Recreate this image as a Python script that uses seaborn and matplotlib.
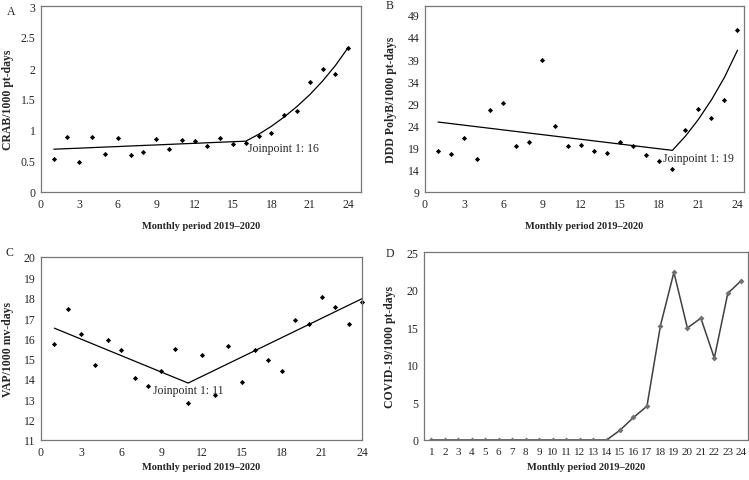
import numpy as np
import pandas as pd
import matplotlib
matplotlib.use("Agg")
import matplotlib.pyplot as plt
import seaborn as sns
from matplotlib.ticker import MultipleLocator, FixedLocator

# === Data ===
months = list(range(1, 25))

crab = [0.53, 0.89, 0.48, 0.88, 0.62, 0.87, 0.60, 0.64, 0.85, 0.70, 0.84, 0.83,
        0.74, 0.87, 0.78, 0.79, 0.91, 0.95, 1.24, 1.31, 1.78, 1.98, 1.90, 2.32]
crab_fit = [0.690, 0.699, 0.707, 0.716, 0.725, 0.733, 0.742, 0.751, 0.759, 0.768,
            0.777, 0.785, 0.794, 0.803, 0.811, 0.820, 0.93, 1.06, 1.21, 1.38,
            1.57, 1.79, 2.04, 2.33]

polyb = [18.3, 17.5, 21.2, 16.5, 27.6, 29.0, 19.3, 20.3, 38.7, 23.9, 19.4, 19.7,
         18.3, 17.8, 20.3, 19.3, 17.3, 16.1, 14.3, 22.9, 27.8, 25.6, 29.7, 45.5]
polyb_fit_x = [1, 19, 20, 21, 22, 23, 24]
polyb_fit = [24.8, 18.4, 21.6, 25.4, 29.8, 34.9, 41.0]

vap = [15.7, 17.45, 16.2, 14.7, 15.9, 15.45, 14.05, 13.65, 14.4, 15.5, 12.8, 15.2,
       13.2, 15.6, 13.85, 15.45, 14.95, 14.4, 16.9, 16.7, 18.05, 17.55, 16.7, 17.8]
vap_fit_x = [1, 11, 24]
vap_fit = [16.5, 13.8, 17.95]

covid = [0, 0, 0, 0, 0, 0, 0, 0, 0, 0, 0, 0, 0, 0, 1.3, 3.0, 4.5, 15.2, 22.3,
         14.9, 16.2, 10.9, 19.5, 21.2]

sns.set_theme(style="white")
plt.rcParams["font.family"] = ["Liberation Serif", "DejaVu Serif"]
plt.rcParams["font.size"] = 8

fig = plt.figure(figsize=(7.49, 4.81), dpi=100)
W, H = 749, 481


def add_ax(l, t, r, b):
    return fig.add_axes([l / W, 1 - b / H, (r - l) / W, (b - t) / H])


axA = add_ax(41, 7, 361, 193)
axB = add_ax(425, 7, 744, 193)
axC = add_ax(41, 258, 362, 441)
axD = add_ax(424, 253, 748, 441)

df = pd.DataFrame({"month": months, "crab": crab, "crab_fit": crab_fit,
                   "polyb": polyb, "vap": vap, "covid": covid})

TICK = 8.5
XLBL = 7.5
YLBL = 8.5

# A
sns.scatterplot(data=df, x="month", y="crab", ax=axA, marker="D", s=7, color="black",
                linewidth=0, clip_on=False)
sns.lineplot(data=df, x="month", y="crab_fit", ax=axA, color="black", linewidth=0.9)
axA.set_xlim(0, 25)
axA.set_ylim(0, 3)
axA.xaxis.set_major_locator(FixedLocator(range(0, 25, 3)))
axA.yaxis.set_major_locator(FixedLocator([0, 0.5, 1, 1.5, 2, 2.5, 3]))
axA.set_yticklabels(["0", "0.5", "1", "1.5", "2", "2.5", "3"])
axA.set_ylabel("CRAB/1000 pt-days", fontweight="bold", fontsize=YLBL)
axA.text(16.2, 0.81, "Joinpoint 1: 16", va="top", ha="left", fontsize=TICK)

# B
sns.scatterplot(data=df, x="month", y="polyb", ax=axB, marker="D", s=7, color="black",
                linewidth=0, clip_on=False)
sns.lineplot(x=polyb_fit_x, y=polyb_fit, ax=axB, color="black", linewidth=0.9)
axB.set_xlim(0, 24.5)
axB.set_ylim(9, 51)
axB.xaxis.set_major_locator(FixedLocator(range(0, 25, 3)))
axB.yaxis.set_major_locator(FixedLocator(range(9, 50, 5)))
axB.set_ylabel("DDD PolyB/1000 pt-days", fontweight="bold", fontsize=YLBL)
axB.text(18.3, 18.0, "Joinpoint 1: 19", va="top", ha="left", fontsize=TICK)

# C
sns.scatterplot(data=df, x="month", y="vap", ax=axC, marker="D", s=7, color="black",
                linewidth=0, clip_on=False)
sns.lineplot(x=vap_fit_x, y=vap_fit, ax=axC, color="black", linewidth=0.9)
axC.set_xlim(0, 24)
axC.set_ylim(11, 20)
axC.xaxis.set_major_locator(FixedLocator(range(0, 25, 3)))
axC.yaxis.set_major_locator(MultipleLocator(1))
axC.set_ylabel("VAP/1000 mv-days", fontweight="bold", fontsize=YLBL)
axC.text(11, 13.75, "Joinpoint 1: 11", va="top", ha="center", fontsize=TICK)

# D
sns.lineplot(data=df, x="month", y="covid", ax=axD, color="#404040", linewidth=1.1,
             marker="D", markersize=3, markeredgewidth=0, markerfacecolor="#707070")
axD.set_xlim(0.45, 24.5)
axD.set_ylim(0, 25)
axD.xaxis.set_major_locator(FixedLocator(months))
axD.xaxis.set_minor_locator(FixedLocator(np.arange(1.5, 24.5, 1)))
axD.yaxis.set_major_locator(MultipleLocator(5))
axD.set_ylabel("COVID-19/1000 pt-days", fontweight="bold", fontsize=YLBL)

# label anchor = right edge of rotated y label, centre of x label (pixels)
ylab_x = {axA: (14 - 41) / 320, axB: (397 - 425) / 319, axC: (14 - 41) / 321, axD: (396 - 424) / 324}
xlab_y = {axA: -(222 - 193) / 186, axB: -(222 - 193) / 186, axC: -(463 - 441) / 183, axD: -(463 - 441) / 188}

for ax in (axA, axB, axC, axD):
    ax.set_xlabel("Monthly period 2019\u20132020", fontweight="bold", fontsize=XLBL)
    ax.xaxis.set_label_coords(0.5, xlab_y[ax])
    ax.yaxis.set_label_coords(ylab_x[ax], 0.5)
    for sp in ax.spines.values():
        sp.set_color("#777777")
        sp.set_linewidth(0.9)
    ax.tick_params(axis="both", which="major", direction="in", length=4, width=0.8,
                   color="#555555", labelsize=TICK, pad=4)
axD.tick_params(axis="x", which="major", length=0, pad=5, labelsize=8)
axD.tick_params(axis="x", which="minor", direction="in", length=4, width=0.8, color="#555555")

fig.text(7 / W, 1 - 12 / H, "A", fontsize=TICK, va="center")
fig.text(386 / W, 1 - 6 / H, "B", fontsize=TICK, va="center")
fig.text(5 / W, 1 - 253 / H, "C", fontsize=TICK, va="center")
fig.text(386 / W, 1 - 254 / H, "D", fontsize=TICK, va="center")

fig.savefig("out.png", dpi=100)
